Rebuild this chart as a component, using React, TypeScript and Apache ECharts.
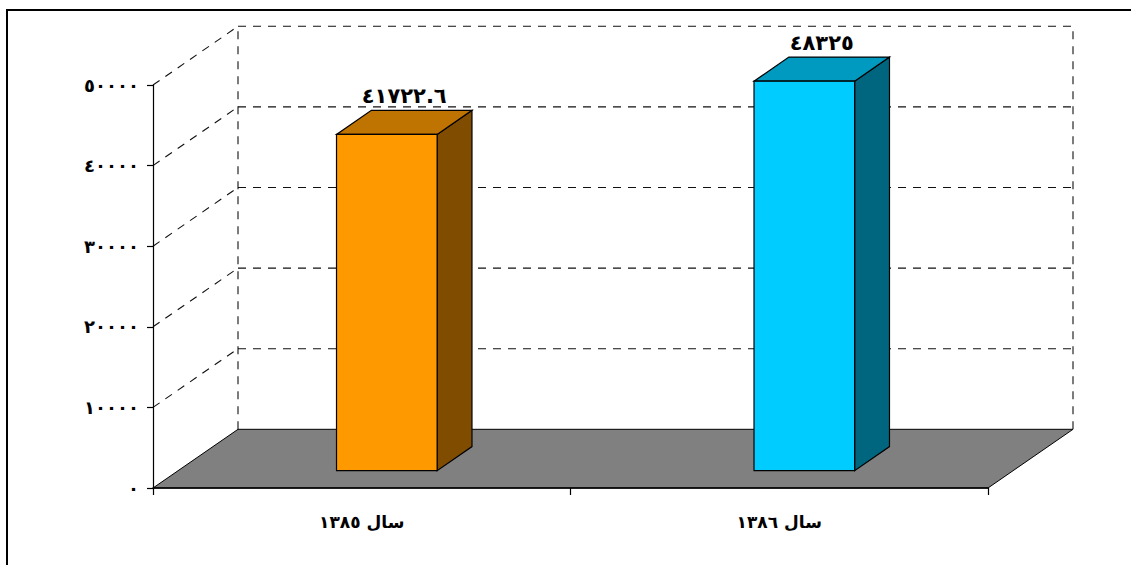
import React, { useEffect, useRef } from "react";
import * as echarts from "echarts";

// ---- data ----
const categories: string[] = ["سال ١٣٨٥", "سال ١٣٨٦"];
const values: number[] = [41722.6, 48325];
const yTicks: number[] = [0, 10000, 20000, 30000, 40000, 50000];

// ---- styles ----
const frontColors = ["#FF9900", "#00CCFF"];
const topColors = ["#BF7300", "#0099BF"];
const sideColors = ["#804D00", "#006680"];
const DX = 85;
const DY = -58.7;
const F0 = 0.295;
const F1 = 0.705;
const BAR_RATIO = 0.241;
const FONT = "DejaVu Sans";

const toArabic = (s: string | number) =>
  String(s).replace(/[0-9]/g, (d) => String.fromCharCode(0x0660 + Number(d)));

export default function App() {
  const ref = useRef<HTMLDivElement>(null);
  useEffect(() => {
    if (!ref.current) return;
    const chart = echarts.init(ref.current, undefined, { renderer: "svg" });
    const yMax = yTicks[yTicks.length - 1];
    const dash = [8, 7];
    const gridStyle = { stroke: "#111", lineWidth: 1.1, lineDash: dash };

    const wallsRender = (params: any, api: any) => {
      const cs = params.coordSys;
      const v = api.value(0);
      const y = api.coord([0, v])[1];
      const yTop = api.coord([0, yMax])[1];
      const x = cs.x;
      const right = cs.x + cs.width;
      const children: any[] = [];
      if (v === 0) {
        children.push({
          type: "polygon",
          shape: {
            points: [
              [x, y],
              [x + DX, y + DY],
              [right + DX, y + DY],
              [right, y],
            ],
          },
          style: { fill: "#808080", stroke: "#000", lineWidth: 1 },
        });
        children.push({
          type: "line",
          shape: { x1: x + DX, y1: y + DY, x2: x + DX, y2: yTop + DY },
          style: gridStyle,
        });
        children.push({
          type: "line",
          shape: { x1: right + DX, y1: y + DY, x2: right + DX, y2: yTop + DY },
          style: gridStyle,
        });
      } else {
        children.push({
          type: "line",
          shape: { x1: x, y1: y, x2: x + DX, y2: y + DY },
          style: gridStyle,
        });
        children.push({
          type: "line",
          shape: { x1: x + DX, y1: y + DY, x2: right + DX, y2: y + DY },
          style: gridStyle,
        });
      }
      return { type: "group", children };
    };

    const barsRender = (params: any, api: any) => {
      const idx = api.value(0);
      const val = api.value(1);
      const base = api.coord([idx, 0]);
      const top = api.coord([idx, val]);
      const catW = api.size([1, 0])[0];
      const barW = catW * BAR_RATIO;
      const x0 = base[0] - barW / 2 + DX * F0;
      const x1 = x0 + barW;
      const yb = base[1] + DY * F0;
      const yt = top[1] + DY * F0;
      const ddx = DX * (F1 - F0);
      const ddy = DY * (F1 - F0);
      const i = params.dataIndex;
      const stroke = { stroke: "#000", lineWidth: 1.2 };
      return {
        type: "group",
        children: [
          {
            type: "polygon",
            shape: {
              points: [
                [x1, yt],
                [x1 + ddx, yt + ddy],
                [x1 + ddx, yb + ddy],
                [x1, yb],
              ],
            },
            style: { fill: sideColors[i], ...stroke },
          },
          {
            type: "polygon",
            shape: {
              points: [
                [x0, yt],
                [x1, yt],
                [x1 + ddx, yt + ddy],
                [x0 + ddx, yt + ddy],
              ],
            },
            style: { fill: topColors[i], ...stroke },
          },
          {
            type: "rect",
            shape: { x: x0, y: yt, width: barW, height: yb - yt },
            style: { fill: frontColors[i], ...stroke },
          },
          {
            type: "text",
            style: {
              x: (x0 + x1) / 2 + ddx / 2,
              y: yt + ddy - 4,
              text: toArabic(val),
              align: "center",
              verticalAlign: "bottom",
              fill: "#000",
              font: `bold 21px "${FONT}"`,
            },
          },
        ],
      };
    };

    chart.setOption({
      animation: false,
      backgroundColor: "#fff",
      grid: { left: 153, right: 143, top: 85, bottom: 77, containLabel: false },
      xAxis: {
        type: "category",
        data: categories,
        boundaryGap: true,
        z: 10,
        axisLine: { show: true, lineStyle: { color: "#000", width: 1.5 } },
        axisTick: { show: true, length: 7, lineStyle: { color: "#000", width: 1.2 } },
        axisLabel: {
          color: "#000",
          fontSize: 17,
          fontWeight: "bold",
          fontFamily: FONT,
          margin: 25,
        },
        splitLine: { show: false },
      },
      yAxis: {
        type: "value",
        min: yTicks[0],
        max: yMax,
        interval: yTicks[1] - yTicks[0],
        z: 10,
        axisLine: { show: true, lineStyle: { color: "#000", width: 1.2 } },
        axisTick: { show: true, length: 6, lineStyle: { color: "#000", width: 1.2 } },
        axisLabel: {
          color: "#000",
          fontSize: 18,
          fontWeight: "bold",
          fontFamily: FONT,
          margin: 14,
          formatter: (v: number) => toArabic(v),
        },
        splitLine: { show: false },
      },
      graphic: [
        {
          type: "rect",
          shape: { x: 7, y: 10, width: 1200, height: 600 },
          style: { fill: "none", stroke: "#000", lineWidth: 2 },
          silent: true,
          z: 100,
        },
      ],
      series: [
        {
          type: "custom",
          name: "walls",
          z: 1,
          renderItem: wallsRender,
          data: yTicks.map((v) => [v]),
          encode: { y: 0 },
          silent: true,
        },
        {
          type: "custom",
          name: "bars",
          z: 3,
          renderItem: barsRender,
          data: values.map((v, i) => [i, v]),
          encode: { x: 0, y: 1 },
          silent: true,
        },
      ],
    });
    return () => chart.dispose();
  }, []);
  return (
    <div
      ref={ref}
      style={{ position: "fixed", left: 0, top: 0, width: 1131, height: 565 }}
    />
  );
}
